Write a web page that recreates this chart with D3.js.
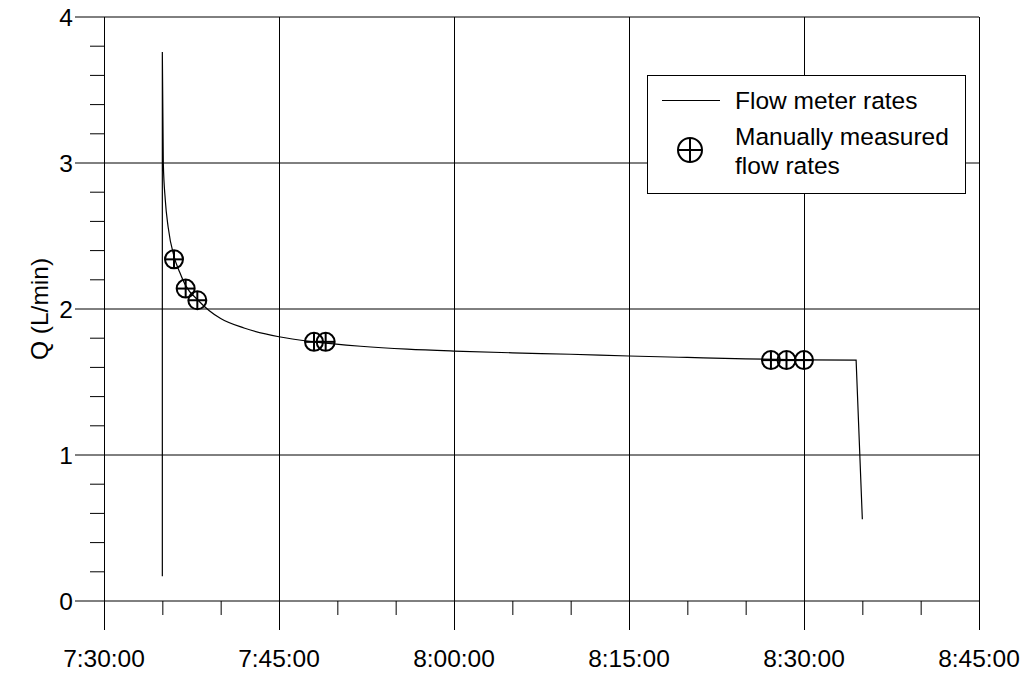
<!DOCTYPE html>
<html>
<head>
<meta charset="utf-8">
<script src="https://cdn.jsdelivr.net/npm/d3@7"></script>
<style>
  body { margin: 0; background: #fff; }
  text { font-family: "Liberation Sans", Arial, sans-serif; fill: #000; font-size: 24.5px; }
</style>
</head>
<body>
<div id="chart"></div>
<script>
// Flow meter record (time of day, L/min)
const meterTimes = ["7:35:00", "7:35:00", "7:35:05", "7:35:15", "7:35:30", "7:36:00", "7:36:30",
    "7:37:00", "7:38:00", "7:39:00", "7:40:00", "7:42:00", "7:45:00", "7:48:00", "7:52:00",
    "7:56:00", "8:00:00", "8:05:00", "8:10:00", "8:15:00", "8:20:00", "8:25:00", "8:30:00",
    "8:34:28", "8:35:00"];
const meterQ = [0.17, 3.76, 3.0, 2.75, 2.56, 2.36, 2.25, 2.16, 2.065, 1.99, 1.935, 1.87, 1.81,
    1.775, 1.745, 1.725, 1.712, 1.70, 1.69, 1.678, 1.668, 1.658, 1.652, 1.65, 0.56];

// Manual bucket measurements
const manualTimes = ["7:36:00", "7:37:00", "7:38:00", "7:48:00", "7:49:00", "8:27:10", "8:28:30", "8:30:00"];
const manualQ = [2.34, 2.14, 2.06, 1.775, 1.775, 1.65, 1.65, 1.65];

const xTickLabels = ["7:30:00", "7:45:00", "8:00:00", "8:15:00", "8:30:00", "8:45:00"];
const yTickLabels = [0, 1, 2, 3, 4];
const legendLabels = ["Flow meter rates", ["Manually measured", "flow rates"]];

const parseTime = d3.timeParse("%H:%M:%S");

const width = 1024, height = 673;
const svg = d3.select("#chart").append("svg")
    .attr("width", width)
    .attr("height", height);

// scales
const x = d3.scaleTime()
    .domain([parseTime("7:30:00"), parseTime("8:45:00")])
    .range([104, 979]);
const y = d3.scaleLinear()
    .domain([0, 4])
    .range([601, 17]);

const majorTimes = xTickLabels.map(parseTime);
const minorTimes = d3.timeMinute.every(5).range(parseTime("7:30:00"), parseTime("8:45:01"))
    .filter(t => t.getMinutes() % 15 !== 0);
const minorY = d3.range(1, 20).map(i => i * 0.2).filter(v => Math.abs(v - Math.round(v)) > 1e-6);

// horizontal grid lines (also the long major ticks on the left)
svg.append("g").selectAll("line")
    .data(yTickLabels)
    .join("line")
    .attr("x1", 75)
    .attr("x2", 979)
    .attr("y1", d => y(d))
    .attr("y2", d => y(d))
    .attr("stroke", "#000")
    .attr("stroke-width", 1);

// vertical grid lines (long major ticks below)
svg.append("g").selectAll("line")
    .data(majorTimes)
    .join("line")
    .attr("x1", d => x(d) + 0.5)
    .attr("x2", d => x(d) + 0.5)
    .attr("y1", 17)
    .attr("y2", 630)
    .attr("stroke", "#000")
    .attr("stroke-width", 1);

// minor ticks
svg.append("g").selectAll("line")
    .data(minorTimes)
    .join("line")
    .attr("x1", d => x(d) + 0.5)
    .attr("x2", d => x(d) + 0.5)
    .attr("y1", 601)
    .attr("y2", 615)
    .attr("stroke", "#000");

svg.append("g").selectAll("line")
    .data(minorY)
    .join("line")
    .attr("x1", 90)
    .attr("x2", 104)
    .attr("y1", d => y(d))
    .attr("y2", d => y(d))
    .attr("stroke", "#000");

// tick labels
svg.append("g").selectAll("text")
    .data(xTickLabels)
    .join("text")
    .attr("x", d => x(parseTime(d)))
    .attr("y", 667)
    .attr("text-anchor", "middle")
    .text(d => d);

svg.append("g").selectAll("text")
    .data(yTickLabels)
    .join("text")
    .attr("x", 73)
    .attr("y", d => y(d))
    .attr("dy", "0.35em")
    .attr("text-anchor", "end")
    .text(d => d);

svg.append("text")
    .attr("transform", "translate(48,309) rotate(-90)")
    .attr("text-anchor", "middle")
    .text("Q (L/min)");

// flow meter line: start spike, smooth decay, final drop
const meter = meterTimes.map((t, i) => ({ t: parseTime(t), q: meterQ[i] }));
const straight = d3.line().x(d => x(d.t)).y(d => y(d.q));
const smooth = d3.line().x(d => x(d.t)).y(d => y(d.q)).curve(d3.curveMonotoneX);

svg.append("path")
    .attr("d", straight(meter.slice(0, 2)) + smooth(meter.slice(1, meter.length - 1)).replace(/^M/, "L") +
        "L" + x(meter[meter.length - 1].t) + "," + y(meter[meter.length - 1].q))
    .attr("fill", "none")
    .attr("stroke", "#000")
    .attr("stroke-width", 1.2);

// crossed-circle marker
function crossCircle(g, r) {
    g.append("circle")
        .attr("r", r)
        .attr("fill", "none")
        .attr("stroke", "#000")
        .attr("stroke-width", 2);
    g.append("line")
        .attr("x1", -r).attr("x2", r)
        .attr("stroke", "#000").attr("stroke-width", 2);
    g.append("line")
        .attr("y1", -r).attr("y2", r)
        .attr("stroke", "#000").attr("stroke-width", 2);
}

svg.append("g").selectAll("g")
    .data(manualTimes.map((t, i) => ({ t: parseTime(t), q: manualQ[i] })))
    .join("g")
    .attr("transform", d => "translate(" + x(d.t) + "," + y(d.q) + ")")
    .each(function () { crossCircle(d3.select(this), 9); });

// legend
const legend = svg.append("g");
legend.append("rect")
    .attr("x", 647.5)
    .attr("y", 75.5)
    .attr("width", 318)
    .attr("height", 118)
    .attr("fill", "#fff")
    .attr("stroke", "#000");

legend.append("line")
    .attr("x1", 662)
    .attr("x2", 720)
    .attr("y1", 100.5)
    .attr("y2", 100.5)
    .attr("stroke", "#000");

legend.append("text")
    .attr("x", 735)
    .attr("y", 109)
    .text(legendLabels[0]);

crossCircle(legend.append("g").attr("transform", "translate(690,150)"), 12);

legend.append("text")
    .attr("x", 735)
    .attr("y", 145)
    .text(legendLabels[1][0]);

legend.append("text")
    .attr("x", 735)
    .attr("y", 174)
    .text(legendLabels[1][1]);
</script>
</body>
</html>
